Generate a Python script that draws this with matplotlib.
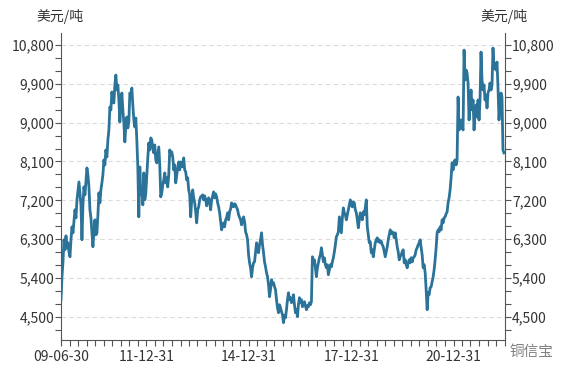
import matplotlib
matplotlib.use('Agg')
import matplotlib.pyplot as plt
import pandas as pd
from matplotlib.ticker import FixedLocator, FuncFormatter

plt.rcParams['font.family'] = ['Noto Sans CJK SC', 'DejaVu Sans']

# ---- data (LME copper, USD/t), sampled evenly between the two dates ----
start_date = '2009-06-30'
end_date = '2022-06-24'
prices = [
    4894, 5427, 5774, 6284, 6052, 6376, 6099, 6214, 6000, 5890,
    6284, 6585, 6446, 6700, 6979, 6793, 7210, 7420, 7627, 7372,
    7094, 6284, 7094, 7511, 7326, 7650, 7951, 7789, 7511, 6979,
    6793, 6469, 6122, 6469, 6747, 6400, 6446, 6863, 7372, 7141,
    7442, 7604, 7789, 8137, 8021, 8368, 8206, 8600, 8831, 9364,
    9295, 9712, 9526, 9457, 9874, 10105, 9758, 9874, 9526, 9017,
    9410, 9688, 9295, 8994, 8554, 8947, 9132, 8878, 9017, 9688,
    9642, 9804, 9410, 9063, 8901, 9109, 8600, 7974, 6816, 7974,
    7326, 7511, 7094, 7836, 7210, 7372, 7789, 8183, 8530, 8368,
    8646, 8600, 8415, 8299, 8484, 8137, 8067, 8252, 8438, 8021,
    7280, 7372, 7558, 7674, 7836, 7604, 7720, 7511, 7789, 8368,
    8252, 8322, 8206, 7905, 8021, 7604, 7789, 7951, 8090, 7905,
    8090, 8000, 7974, 8183, 7905, 7859, 7674, 7720, 7442, 7326,
    6816, 7210, 7442, 7257, 7141, 6932, 6677, 6979, 7048, 7210,
    7280, 7300, 7326, 7210, 7303, 7210, 7071, 7210, 7257, 7141,
    6979, 7210, 7300, 7396, 7257, 7350, 7280, 7141, 7048, 6909,
    6701, 6515, 6608, 6677, 6585, 6747, 6800, 6909, 6747, 6932,
    7000, 7141, 7071, 7048, 7120, 7094, 7030, 6979, 6863, 6800,
    6747, 6631, 6750, 6816, 6701, 6469, 6400, 6284, 5936, 5751,
    5635, 5427, 5635, 5751, 5774, 6006, 6214, 6052, 5983, 6168,
    6284, 6446, 6168, 5983, 5774, 5658, 5520, 5427, 5242, 4964,
    5126, 5358, 5242, 5288, 5196, 5126, 4894, 4709, 4593, 4778,
    4709, 4616, 4547, 4362, 4524, 4477, 4663, 4894, 5056, 4894,
    4941, 4825, 4894, 5010, 4778, 4593, 4663, 4501, 4778, 4941,
    4825, 4894, 4732, 4778, 4848, 4755, 4663, 4755, 4732, 4825,
    4778, 4848, 5890, 5774, 5820, 5635, 5427, 5635, 5751, 5867,
    5936, 6099, 5936, 5774, 5867, 5705, 5635, 5705, 5473, 5589,
    5705, 5658, 5774, 5867, 6006, 6168, 6353, 6400, 6469, 6816,
    6631, 6446, 6793, 7025, 6909, 6863, 6747, 6863, 6979, 7094,
    7210, 7094, 7048, 7164, 7141, 6979, 6909, 6747, 6562, 6747,
    6909, 6816, 6747, 6932, 6863, 7025, 7210, 6585, 6400, 6214,
    6237, 5983, 6052, 5890, 6052, 6214, 6284, 6330, 6237, 6284,
    6214, 6250, 6168, 6122, 6006, 5890, 6006, 6122, 6284, 6400,
    6515, 6423, 6469, 6446, 6330, 6446, 6284, 6122, 6006, 5820,
    5890, 5936, 6006, 6052, 5751, 5820, 5705, 5635, 5751, 5820,
    5751, 5867, 5774, 5867, 5890, 5936, 6052, 6099, 6168, 6214,
    6284, 6099, 5936, 5635, 5705, 5520, 5126, 4663, 5056, 5010,
    5172, 5196, 5311, 5427, 5589, 5820, 6099, 6446, 6515, 6469,
    6585, 6515, 6747, 6677, 6793, 6816, 6886, 6932, 7141, 7257,
    7442, 7720, 8067, 7905, 8090, 8137, 8021, 8137, 9596, 8831,
    8947, 9063, 8901, 8831, 10684, 9989, 10221, 10152, 9920, 9063,
    9457, 9758, 9295, 9526, 8831, 9295, 9410, 9132, 9526, 9063,
    9526, 10638, 9989, 9758, 9874, 9526, 9642, 9341, 9688, 9758,
    9920, 9758, 9874, 10731, 10267, 10383, 10221, 10406, 9827, 9063,
    9410, 9688, 9596, 8368, 8299,
]

y_ticks = [4500, 5400, 6300, 7200, 8100, 9000, 9900, 10800]
y_minor = [4200, 4800, 5100, 5700, 6000, 6600, 6900, 7500, 7800,
           8400, 8700, 9300, 9600, 10200, 10500]
x_tick_dates = ['2009-06-30', '2011-12-31', '2014-12-31', '2017-12-31', '2020-12-31']
x_tick_labels = ['09-06-30', '11-12-31', '14-12-31', '17-12-31', '20-12-31']
unit_label = '美元/吨'
watermark = '铜信宝'

dates = pd.date_range(start_date, end_date, periods=len(prices))

W, H = 568, 378
fig = plt.figure(figsize=(W / 100, H / 100), dpi=100)
ax = fig.add_axes([61 / W, 38 / H, 444 / W, 307 / H])

ax.plot(dates, prices, color='#2b7398', lw=2.0, solid_joinstyle='round', zorder=3)

ax.set_ylim(3960, 11080)
ax.set_xlim(pd.Timestamp('2009-06-30'), pd.Timestamp('2022-07-05'))

# y axis (both sides)
ax.yaxis.set_major_locator(FixedLocator(y_ticks))
ax.yaxis.set_minor_locator(FixedLocator(y_minor))
ax.yaxis.set_major_formatter(FuncFormatter(lambda v, p: f'{int(v):,}'))
ax.yaxis.grid(True, which='major', color='#dcdcdc', lw=0.8, ls=(0, (4, 3)), zorder=0)

# x axis ticks every quarter
try:
    quarters = pd.date_range('2009-06-30', '2022-06-30', freq='QE')
except Exception:
    quarters = pd.date_range('2009-06-30', '2022-06-30', freq='Q')
major_x = pd.to_datetime(x_tick_dates)
ax.xaxis.set_major_locator(FixedLocator(matplotlib.dates.date2num(major_x)))
ax.xaxis.set_minor_locator(FixedLocator(matplotlib.dates.date2num(quarters)))
ax.set_xticklabels(x_tick_labels)

ax.tick_params(axis='both', which='both', direction='out', length=4, width=0.8,
               color='#555555', labelcolor='#333333', labelsize=10)
ax.tick_params(axis='y', which='both', left=True, right=True,
               labelleft=True, labelright=True, pad=1)
ax.tick_params(axis='x', which='both', pad=3)

for s in ['left', 'right', 'bottom']:
    ax.spines[s].set_color('#555555')
    ax.spines[s].set_linewidth(0.8)
ax.spines['top'].set_visible(False)

fig.text(60 / W, 1 - 17 / H, unit_label, ha='center', va='center', fontsize=10, color='#333333')
fig.text(504 / W, 1 - 17 / H, unit_label, ha='center', va='center', fontsize=10, color='#333333')
fig.text(531 / W, 1 - 352 / H, watermark, ha='center', va='center', fontsize=10.5, color='#808080')

fig.savefig('out.png', dpi=100, facecolor='white')
